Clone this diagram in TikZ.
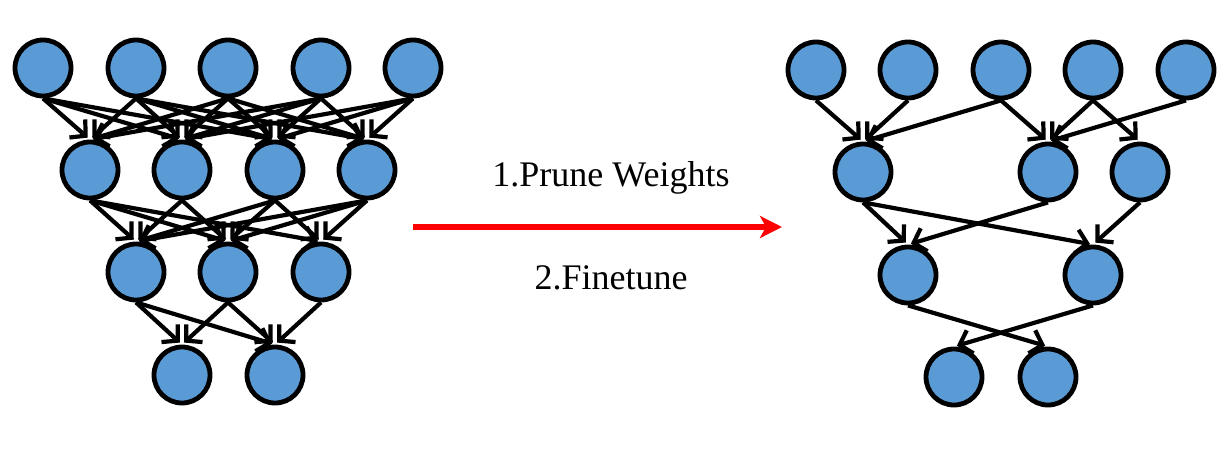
\documentclass[tikz,border=0pt]{standalone}
\usepackage{fontspec}
\setmainfont{Liberation Serif}
\usetikzlibrary{arrows.meta}
\definecolor{nblue}{RGB}{91,155,213}
\begin{document}
\begin{tikzpicture}[x=1pt,y=-1pt,
	neuron/.style={circle, draw=black, line width=4.8pt, fill=nblue, minimum size=56pt, inner sep=0pt},
	conn/.style={line width=4.2pt, -{Straight Barb[length=11pt,width=24pt]}, shorten >=3pt},
	label/.style={font=\fontsize{36}{40}\selectfont}]
	\useasboundingbox (0,0) rectangle (1230,466);
	% dense network
	\node[neuron] (t1) at (43,68) {};
	\node[neuron] (t2) at (136,68) {};
	\node[neuron] (t3) at (228,68) {};
	\node[neuron] (t4) at (321,68) {};
	\node[neuron] (t5) at (413,68) {};
	\node[neuron] (s1) at (90,170) {};
	\node[neuron] (s2) at (182,170) {};
	\node[neuron] (s3) at (275,170) {};
	\node[neuron] (s4) at (367,170) {};
	\node[neuron] (h1) at (136,272) {};
	\node[neuron] (h2) at (228,272) {};
	\node[neuron] (h3) at (321,272) {};
	\node[neuron] (b1) at (182,375) {};
	\node[neuron] (b2) at (275,375) {};
	\foreach \a/\b in {t1/s1,t1/s2,t1/s3,t2/s1,t2/s2,t2/s3,t2/s4,t3/s1,t3/s2,t3/s3,t3/s4,
		t4/s1,t4/s2,t4/s3,t4/s4,t5/s2,t5/s3,t5/s4,
		s1/h1,s1/h2,s1/h3,s2/h1,s2/h2,s3/h1,s3/h2,s3/h3,s4/h1,s4/h2,s4/h3,
		h1/b1,h1/b2,h2/b1,h2/b2,h3/b2}
		\draw[conn] (\a.south) -- (\b.north);
	% pruned network
	\node[neuron] (rt1) at (816,70) {};
	\node[neuron] (rt2) at (908,70) {};
	\node[neuron] (rt3) at (1001,70) {};
	\node[neuron] (rt4) at (1093,70) {};
	\node[neuron] (rt5) at (1186,70) {};
	\node[neuron] (rs1) at (863,172) {};
	\node[neuron] (rs2) at (1048,172) {};
	\node[neuron] (rs3) at (1140,172) {};
	\node[neuron] (rh1) at (908,275) {};
	\node[neuron] (rh2) at (1093,275) {};
	\node[neuron] (rb1) at (954,377) {};
	\node[neuron] (rb2) at (1048,377) {};
	\foreach \a/\b in {rt1/rs1,rt2/rs1,rt3/rs1,rt3/rs2,rt4/rs2,rt4/rs3,rt5/rs2,
		rs1/rh1,rs1/rh2,rs2/rh1,rs3/rh2,rh1/rb2,rh2/rb1}
		\draw[conn] (\a.south) -- (\b.north);
	% pruning step
	\coordinate (from) at (413,227);
	\coordinate (to) at (782,227);
	\draw[red, line width=6pt, -{Stealth[length=22pt,width=22pt,inset=6pt]}] (from) -- (to);
	\node[label] (prune) at (611,178) {1.Prune Weights};
	\node[label] (fine) at (611,278) {2.Finetune};
\end{tikzpicture}
\end{document}
